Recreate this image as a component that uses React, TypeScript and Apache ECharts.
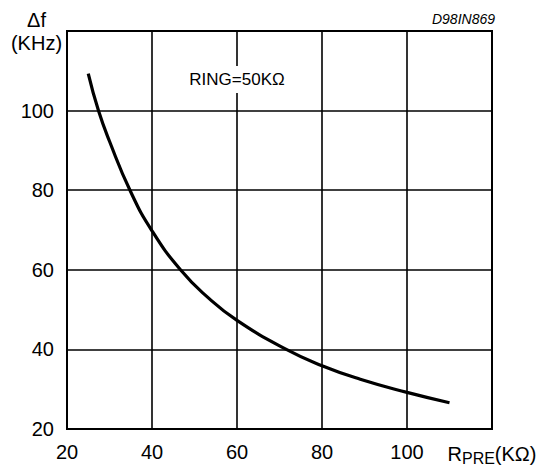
import React, { useEffect, useRef } from "react";
import * as echarts from "echarts";

const rpre = [25, 27.4, 30, 34.9, 40, 46.7, 53, 60, 71.6, 80, 89, 100, 110];
const deltaF = [109.3, 100, 92.3, 79.8, 69.8, 60, 53.2, 47.3, 40, 35.9, 32.5, 29.2, 26.6];
const xTicks = [20, 40, 60, 80, 100, 120];
const yTicks = [20, 40, 60, 80, 100, 120];
const noteText = "RING=50KΩ";
const notePos = [60, 107.8];
const figureId = "D98IN869";

const FONT = "'Liberation Sans', Arial, sans-serif";

export default function App() {
  const ref = useRef<HTMLDivElement>(null);
  useEffect(() => {
    if (!ref.current) return;
    const chart = echarts.init(ref.current, null, { renderer: "svg" });
    const data = rpre.map((x, i) => [x, deltaF[i]]);
    chart.setOption({
      animation: false,
      textStyle: { fontFamily: FONT, color: "#000" },
      title: {
        text: figureId,
        right: 47,
        top: 12,
        padding: 0,
        textStyle: { fontFamily: FONT, fontStyle: "italic", fontWeight: "normal", fontSize: 14, color: "#000" },
      },
      grid: {
        left: 67,
        top: 31,
        right: 50,
        bottom: 39,
        show: true,
        borderColor: "#000",
        borderWidth: 2,
        backgroundColor: "transparent",
      },
      xAxis: {
        type: "value",
        min: xTicks[0],
        max: xTicks[xTicks.length - 1],
        interval: 20,
        axisLine: { show: true, lineStyle: { color: "#000", width: 2 } },
        axisTick: { show: false },
        splitLine: { show: true, lineStyle: { color: "#000", width: 1.6 } },
        axisLabel: {
          margin: 13,
          fontSize: 20,
          color: "#000",
          fontFamily: FONT,
          showMaxLabel: true,
          formatter: (v: number) =>
            v === xTicks[xTicks.length - 1] ? "{r|R}{s|PRE}{r|(KΩ)}" : String(v),
          rich: {
            r: { fontSize: 20, lineHeight: 24, color: "#000", fontFamily: FONT },
            s: { fontSize: 16, lineHeight: 13, verticalAlign: "bottom", color: "#000", fontFamily: FONT },
          },
        },
      },
      yAxis: {
        type: "value",
        min: yTicks[0],
        max: yTicks[yTicks.length - 1],
        interval: 20,
        name: "Δf\n(KHz)",
        nameLocation: "end",
        nameGap: 0,
        nameTextStyle: {
          fontSize: 20,
          lineHeight: 23,
          color: "#000",
          fontFamily: FONT,
          align: "center",
          verticalAlign: "middle",
          padding: [0, 61, 0, 0],
        },
        axisLine: { show: true, lineStyle: { color: "#000", width: 2 } },
        axisTick: { show: false },
        splitLine: { show: true, lineStyle: { color: "#000", width: 1.6 } },
        axisLabel: {
          margin: 13,
          fontSize: 20,
          color: "#000",
          fontFamily: FONT,
          formatter: (v: number) => (v === yTicks[yTicks.length - 1] ? "" : String(v)),
        },
      },
      series: [
        {
          type: "line",
          data,
          smooth: 0.5,
          showSymbol: false,
          lineStyle: { color: "#000", width: 3.2 },
          markPoint: {
            symbol: "circle",
            symbolSize: 1,
            itemStyle: { color: "transparent" },
            data: [
              {
                coord: notePos,
                label: {
                  show: true,
                  position: "inside",
                  formatter: noteText,
                  fontSize: 17,
                  color: "#000",
                  fontFamily: FONT,
                  backgroundColor: "#fff",
                  padding: [5, 3],
                },
              },
            ],
          },
        },
      ],
    });
    return () => chart.dispose();
  }, []);
  return (
    <div
      ref={ref}
      style={{ position: "fixed", left: 0, top: 0, width: 542, height: 468, background: "#fff" }}
    />
  );
}
